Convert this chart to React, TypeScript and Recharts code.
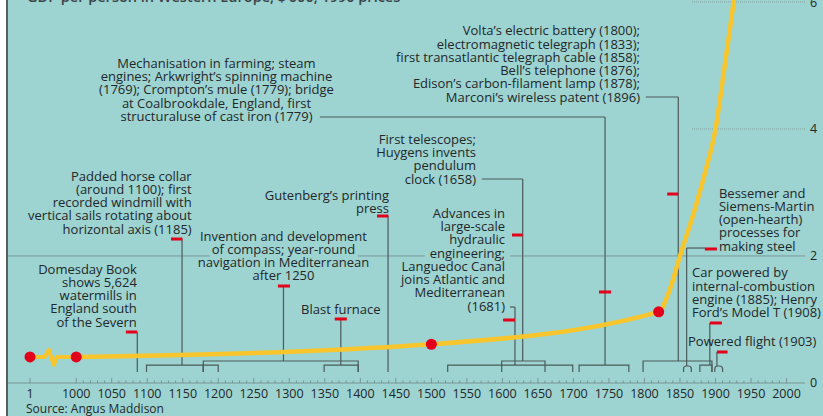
import React from "react";
import {
  ComposedChart,
  Line,
  XAxis,
  YAxis,
  ReferenceLine,
  ReferenceArea,
  ReferenceDot,
} from "recharts";

// GDP per person, Western Europe, $'000 (1990 prices)
const YEARS = [1, 1000, 1500, 1820, 1835, 1850, 1870, 1885, 1900, 1913, 1926, 1940];
const GDP = [0.41, 0.41, 0.61, 1.12, 1.45, 2.0, 2.7, 3.3, 4.0, 5.0, 6.05, 7.5];
const DOT_YEARS = [1, 1000, 1500, 1820];

const AXIS_YEARS = [
  1, 1000, 1050, 1100, 1150, 1200, 1250, 1300, 1350, 1400, 1450, 1500,
  1550, 1600, 1650, 1700, 1750, 1800, 1850, 1900, 1950, 2000,
];
const Y_TICKS = [0, 2, 4, 6];

// year 1 sits in front of the axis break
const BREAK_POS = 935;
const toPos = (year: number) => (year < 1000 ? BREAK_POS : year);

const MINOR_TICKS: number[] = [];
for (let y = 1010; y < 2000; y += 10) if (y % 50 !== 0) MINOR_TICKS.push(y);
const X_TICKS = [...AXIS_YEARS.map(toPos), ...MINOR_TICKS].sort((a, b) => a - b);

// the stretch across the break (year 1 -> 1000) is drawn separately with its squiggle
const lineData = YEARS.map((y, i) => ({ pos: toPos(y), gdp: y >= 1000 ? GDP[i] : null }));

// annotations: label rows, red marker, stem down to the brackets, optional link from label
type Note = {
  lines: string[];
  anchor: "start" | "middle" | "end";
  at: [number, number];
  dash: [number, number, number];
  stem: [number, number, number];
  link?: [number, number, number];
};

const NOTES: Note[] = [
  {
    lines: ["Domesday Book", "shows 5,624", "watermills in", "England south", "of the Severn"],
    anchor: "end",
    at: [1085.4, 1.795],
    dash: [1070, 1086, 0.803],
    stem: [1086, 0.803, 0.173],
  },
  {
    lines: [
      "Padded horse collar",
      "(around 1100); first",
      "recorded windmill with",
      "vertical sails rotating about",
      "horizontal axis (1185)",
    ],
    anchor: "end",
    at: [1162.6, 3.259],
    dash: [1133.5, 1149.5, 2.267],
    stem: [1149, 2.267, 0.283],
  },
  {
    lines: [
      "Invention and development",
      "of compass; year-round",
      "navigation in Mediterranean",
      "after 1250",
    ],
    anchor: "middle",
    at: [1291.8, 2.314],
    dash: [1284, 1301, 1.527],
    stem: [1291.8, 1.527, 0.346],
  },
  {
    lines: ["Gutenberg’s printing", "press"],
    anchor: "end",
    at: [1440.4, 2.952],
    dash: [1423.5, 1439.5, 2.629],
    stem: [1439, 2.629, 0.173],
  },
  {
    lines: ["Blast furnace"],
    anchor: "middle",
    at: [1372.5, 1.16],
    dash: [1364, 1381, 1.008],
    stem: [1372.5, 1.008, 0.283],
  },
  {
    lines: [
      "Mechanisation in farming; steam",
      "engines; Arkwright’s spinning machine",
      "(1769); Crompton’s mule (1779); bridge",
      "at Coalbrookdale, England, first",
      "structuraluse of cast iron (1779)",
    ],
    anchor: "middle",
    at: [1197.5, 5.033],
    dash: [1736, 1753, 1.433],
    stem: [1744.5, 4.188, 0.283],
    link: [1343, 1744.5, 4.188],
  },
  {
    lines: ["First telescopes;", "Huygens invents", "pendulum", "clock (1658)"],
    anchor: "end",
    at: [1562.8, 3.837],
    dash: [1613.5, 1628.6, 2.33],
    stem: [1628.6, 3.212, 0.346],
    link: [1571, 1628.6, 3.212],
  },
  {
    lines: [
      "Advances in",
      "large-scale",
      "hydraulic",
      "engineering;",
      "Languedoc Canal",
      "joins Atlantic and",
      "Mediterranean",
      "(1681)",
    ],
    anchor: "end",
    at: [1603.7, 2.672],
    dash: [1601, 1617.7, 0.992],
    stem: [1617.7, 1.196, 0.283],
    link: [1610.7, 1617.7, 1.196],
  },
  {
    lines: [
      "Volta’s electric battery (1800);",
      "electromagnetic telegraph (1833);",
      "first transatlantic telegraph cable (1858);",
      "Bell’s telephone (1876);",
      "Edison’s carbon-filament lamp (1878);",
      "Marconi’s wireless patent (1896)",
    ],
    anchor: "end",
    at: [1793.7, 5.546],
    dash: [1832, 1847.6, 2.975],
    stem: [1847.6, 4.503, 0.346],
    link: [1802, 1847.6, 4.503],
  },
  {
    lines: ["Bessemer and", "Siemens-Martin", "(open-hearth)", "processes for", "making steel"],
    anchor: "start",
    at: [1904.9, 2.991],
    dash: [1885, 1902, 2.11],
    stem: [1859.4, 2.125, 0.268],
    link: [1859.4, 1885, 2.125],
  },
  {
    lines: ["Car powered by", "internal-combustion", "engine (1885); Henry", "Ford’s Model T (1908)"],
    anchor: "start",
    at: [1866.9, 1.736],
    dash: [1892, 1909, 0.945],
    stem: [1892, 0.945, 0.283],
  },
  {
    lines: ["Powered flight (1903)"],
    anchor: "start",
    at: [1861.3, 0.65],
    dash: [1902, 1917, 0.488],
    stem: [1902, 0.488, 0.268],
  },
];

// date-range brackets above the axis: from, to, top level, rounded
const BRACKETS: [number, number, number, boolean?][] = [
  [1099, 1179, 0.283],
  [1179, 1200, 0.283],
  [1179, 1397, 0.346],
  [1349, 1397, 0.283],
  [1523, 1699, 0.283],
  [1599, 1660, 0.346],
  [1708, 1778, 0.283],
  [1798, 1895, 0.346],
  [1855, 1866, 0.268, true],
  [1878, 1895, 0.283],
  [1899, 1910, 0.268, true],
];
const BRACKET_BASE = 0.173;

// visible pieces of the gridline at 2 (the labels cut it)
const GRID2: [number, number][] = [
  [904, 1188],
  [1396.7, 1491],
  [1610.7, 2026],
];

const TEAL = "#9dd3d0";
const YELLOW = "#f8c62c";
const RED = "#e3001b";
const INK = "#1f282b";
const STEM = "#4c5a5a";
const AXIS = "#7a9494";
const FONT = "'Open Sans', sans-serif";
const ROW = 13.25;

function YearTick(props: any) {
  const { x, y, payload } = props;
  const v = payload.value as number;
  const label = v === BREAK_POS ? "1" : v % 50 === 0 ? String(v) : "";
  return (
    <g>
      <line x1={x} x2={x} y1={y} y2={y - (label ? 5 : 2.5)} stroke={AXIS} strokeWidth={1} />
      {label && (
        <text x={x} y={y + 10.5} dy="0.35em" textAnchor="middle" fontSize={12.5} fill={INK} fontFamily={FONT}>
          {label}
        </text>
      )}
    </g>
  );
}

function ValueTick(props: any) {
  const { x, y, payload } = props;
  // the top label sits above its line and is cut by the frame
  const shift = payload.value === 6 ? -6 : 0;
  return (
    <text x={x} y={y + shift} dy="0.35em" textAnchor="start" fontSize={12.5} fill={INK} fontFamily={FONT}>
      {payload.value}
    </text>
  );
}

function Bracket(props: any) {
  const { x, y, width, height, round } = props;
  const x0 = Math.min(x, x + width);
  const w = Math.abs(width);
  const y0 = Math.min(y, y + height);
  const h = Math.abs(height);
  const r = Math.min(3, w / 2);
  const d = round
    ? `M${x0},${y0 + h} V${y0 + r} Q${x0},${y0} ${x0 + r},${y0} H${x0 + w - r} Q${x0 + w},${y0} ${x0 + w},${y0 + r} V${y0 + h}`
    : `M${x0},${y0 + h} V${y0} H${x0 + w} V${y0 + h}`;
  return <path d={d} fill="none" stroke={STEM} strokeWidth={1.2} />;
}

// year 1 -> year 1000, with the break squiggle part-way along
function BreakSegment(props: any) {
  const x = Number(props.x);
  const w = Number(props.width);
  const y = Number(props.y);
  const m = x + w * 0.45;
  const d =
    `M${x},${y} L${m - 6},${y} L${m - 2},${y - 7} L${m + 3},${y + 8} L${m + 6},${y} L${x + w},${y}`;
  return (
    <path d={d} fill="none" stroke={YELLOW} strokeWidth={4} strokeLinejoin="round" strokeLinecap="round" />
  );
}

function NoteText({ cx, cy, lines, anchor }: any) {
  return (
    <text textAnchor={anchor} fontSize={13} fill={INK} fontFamily={FONT}>
      {lines.map((l: string, i: number) => (
        <tspan key={i} x={cx} y={cy + i * ROW} dy="0.35em">
          {l}
        </tspan>
      ))}
    </text>
  );
}

export default function App() {
  return (
    <div
      style={{
        position: "absolute",
        left: 0,
        top: 0,
        width: 823,
        height: 416,
        background: "#fff",
        overflow: "hidden",
        fontFamily: FONT,
      }}
    >
      <div style={{ position: "absolute", left: 6, top: 0, width: 2, height: 416, background: "#55605f" }} />
      <div style={{ position: "absolute", left: 8, top: 0, width: 815, height: 416, background: TEAL }} />
      <div style={{ position: "absolute", left: 0, top: 0 }}>
        <ComposedChart width={823} height={416} data={lineData} margin={{ top: 0, right: 0, bottom: 3, left: 8 }}>
          <XAxis
            dataKey="pos"
            type="number"
            domain={[904, 2026]}
            allowDataOverflow
            ticks={X_TICKS}
            interval={0}
            height={30}
            tickSize={0}
            tickMargin={0}
            tickLine={false}
            axisLine={{ stroke: AXIS, strokeWidth: 1 }}
            tick={<YearTick />}
          />
          <YAxis
            orientation="right"
            type="number"
            domain={[0, 6.03]}
            allowDataOverflow
            ticks={Y_TICKS}
            width={18}
            axisLine={false}
            tickLine={false}
            tickSize={0}
            tickMargin={5}
            tick={<ValueTick />}
          />

          {GRID2.map(([a, b], i) => (
            <ReferenceLine
              key={`g2-${i}`}
              segment={[{ x: a, y: 2 }, { x: b, y: 2 }]}
              stroke="#7a9998"
              strokeWidth={1}
              zIndex={50}
            />
          ))}
          {[4, 6].map((v) => (
            <ReferenceLine
              key={`g${v}`}
              segment={[{ x: 1867, y: v }, { x: 2026, y: v }]}
              stroke="#86a3a2"
              strokeWidth={1}
              strokeDasharray="1 1"
              zIndex={50}
            />
          ))}

          {BRACKETS.map(([a, b, top, round], i) => (
            <ReferenceArea
              key={`br-${i}`}
              x1={a}
              x2={b}
              y1={BRACKET_BASE}
              y2={top}
              zIndex={100}
              shape={(p: any) => <Bracket {...p} round={round} />}
            />
          ))}
          {NOTES.map((n, i) => (
            <ReferenceLine
              key={`st-${i}`}
              segment={[{ x: n.stem[0], y: n.stem[1] }, { x: n.stem[0], y: n.stem[2] }]}
              stroke={STEM}
              strokeWidth={1.2}
              zIndex={100}
            />
          ))}
          {NOTES.filter((n) => n.link).map((n, i) => (
            <ReferenceLine
              key={`ln-${i}`}
              segment={[{ x: n.link![0], y: n.link![2] }, { x: n.link![1], y: n.link![2] }]}
              stroke={STEM}
              strokeWidth={1.2}
              zIndex={100}
            />
          ))}

          <ReferenceArea
            x1={toPos(YEARS[0])}
            x2={toPos(YEARS[1])}
            y1={GDP[0]}
            y2={GDP[1]}
            zIndex={400}
            shape={(p: any) => <BreakSegment {...p} />}
          />
          <Line
            type="monotone"
            dataKey="gdp"
            stroke={YELLOW}
            strokeWidth={4.5}
            dot={false}
            activeDot={false}
            isAnimationActive={false}
            zIndex={400}
          />

          {NOTES.map((n, i) => (
            <ReferenceLine
              key={`da-${i}`}
              segment={[{ x: n.dash[0], y: n.dash[2] }, { x: n.dash[1], y: n.dash[2] }]}
              stroke={RED}
              strokeWidth={3}
              zIndex={500}
            />
          ))}
          {DOT_YEARS.map((y) => (
            <ReferenceDot
              key={`dot-${y}`}
              x={toPos(y)}
              y={GDP[YEARS.indexOf(y)]}
              r={5.5}
              fill={RED}
              stroke="none"
              zIndex={600}
            />
          ))}
          {NOTES.map((n, i) => (
            <ReferenceDot
              key={`tx-${i}`}
              x={n.at[0]}
              y={n.at[1]}
              r={1}
              zIndex={700}
              shape={(p: any) => <NoteText cx={p.cx} cy={p.cy} lines={n.lines} anchor={n.anchor} />}
            />
          ))}
        </ComposedChart>
      </div>
      <svg
        width={823}
        height={416}
        style={{ position: "absolute", left: 0, top: 0, pointerEvents: "none" }}
      >
        <text x={27} y={1.5} fontSize={14.5} fontWeight={600} fill="#3a4448" fontFamily={FONT}>
          GDP per person in Western Europe, $’000, 1990 prices
        </text>
        <text x={26} y={409} dy="0.35em" fontSize={12} fill={INK} fontFamily={FONT}>
          Source: Angus Maddison
        </text>
      </svg>
    </div>
  );
}
